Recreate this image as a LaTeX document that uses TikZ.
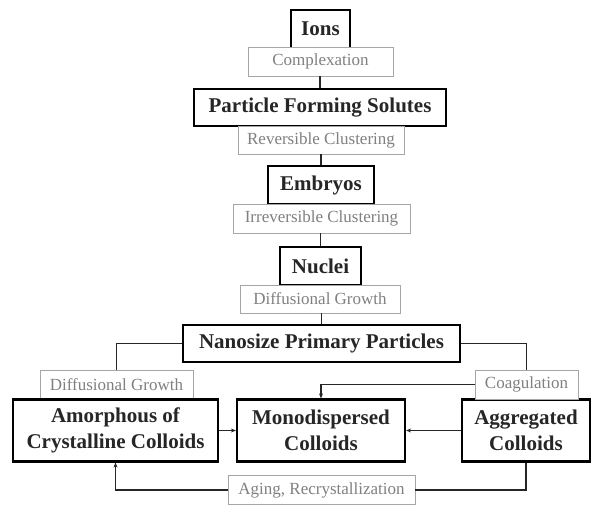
\documentclass[tikz,border=0pt]{standalone}
\usepackage{fontspec}
\setmainfont{Liberation Serif}
\usetikzlibrary{arrows.meta}
\begin{document}
\begin{tikzpicture}[x=1pt,y=-1pt,
  stagebox/.style={draw=black,line width=2.2pt,fill=white,inner sep=0pt,align=center,
    font=\fontsize{21}{26}\selectfont\bfseries,text=black!85},
  procbox/.style={draw=black!35,line width=0.8pt,fill=white,inner sep=0pt,align=center,
    font=\fontsize{17}{19}\selectfont,text=black!50},
  link/.style={line width=1.6pt,black!85},
  arr/.style={link,-{Stealth[length=5pt,width=4pt]}}]
\useasboundingbox (0,0) rectangle (593,505);
\node[stagebox,minimum width=59pt,minimum height=38pt] (ions) at (320.5,29) {Ions};
\node[procbox,minimum width=145pt,minimum height=29pt] (cpx) at (320.5,61.5) {Complexation};
\node[stagebox,minimum width=252pt,minimum height=37pt] (pfs) at (320,107.5) {Particle Forming Solutes};
\node[procbox,minimum width=166pt,minimum height=28pt] (rev) at (321,140) {Reversible Clustering};
\node[stagebox,minimum width=106pt,minimum height=38pt] (emb) at (321,185) {Embryos};
\node[procbox,minimum width=177pt,minimum height=29pt] (irr) at (321.5,218.5) {Irreversible Clustering};
\node[stagebox,minimum width=81pt,minimum height=38pt] (nuc) at (320.5,266) {Nuclei};
\node[procbox,minimum width=160pt,minimum height=28pt] (dif) at (320,299) {Diffusional Growth};
\node[stagebox,minimum width=277pt,minimum height=37pt] (nano) at (321.5,343.5) {Nanosize Primary Particles};
\node[procbox,minimum width=153pt,minimum height=29pt] (dif2) at (116.5,384.5) {Diffusional Growth};
\node[stagebox,minimum width=205pt,minimum height=62pt] (amo) at (115.5,430.5) {Amorphous of\\Crystalline Colloids};
\node[stagebox,minimum width=168pt,minimum height=62pt] (mono) at (321,430.5) {Monodispersed\\Colloids};
\node[stagebox,minimum width=128pt,minimum height=62pt] (agg) at (526,430.5) {Aggregated\\Colloids};
\node[procbox,minimum width=103pt,minimum height=29pt] (coa) at (526.5,384.5) {Coagulation};
\node[procbox,minimum width=187pt,minimum height=29pt] (age) at (321.5,490) {Aging, Recrystallization};
\draw[link] (cpx.south -| pfs.north) -- (pfs.north);
\draw[link] (rev.south -| emb.north) -- (emb.north);
\draw[link] (irr.south -| nuc.north) -- (nuc.north);
\draw[link] (dif.south -| nano.north) -- (nano.north);
\draw[link] (nano.west) -| (dif2.north);
\draw[link] (nano.east) -| (coa.north);
\draw[arr] (coa.west) -| (mono.north);
\draw[arr] (agg.west) -- (mono.east);
\draw[arr] (amo.east) -- (mono.west);
\draw[link] (agg.south) |- (age.east);
\draw[arr] (age.west) -| (amo.south);
\end{tikzpicture}
\end{document}
